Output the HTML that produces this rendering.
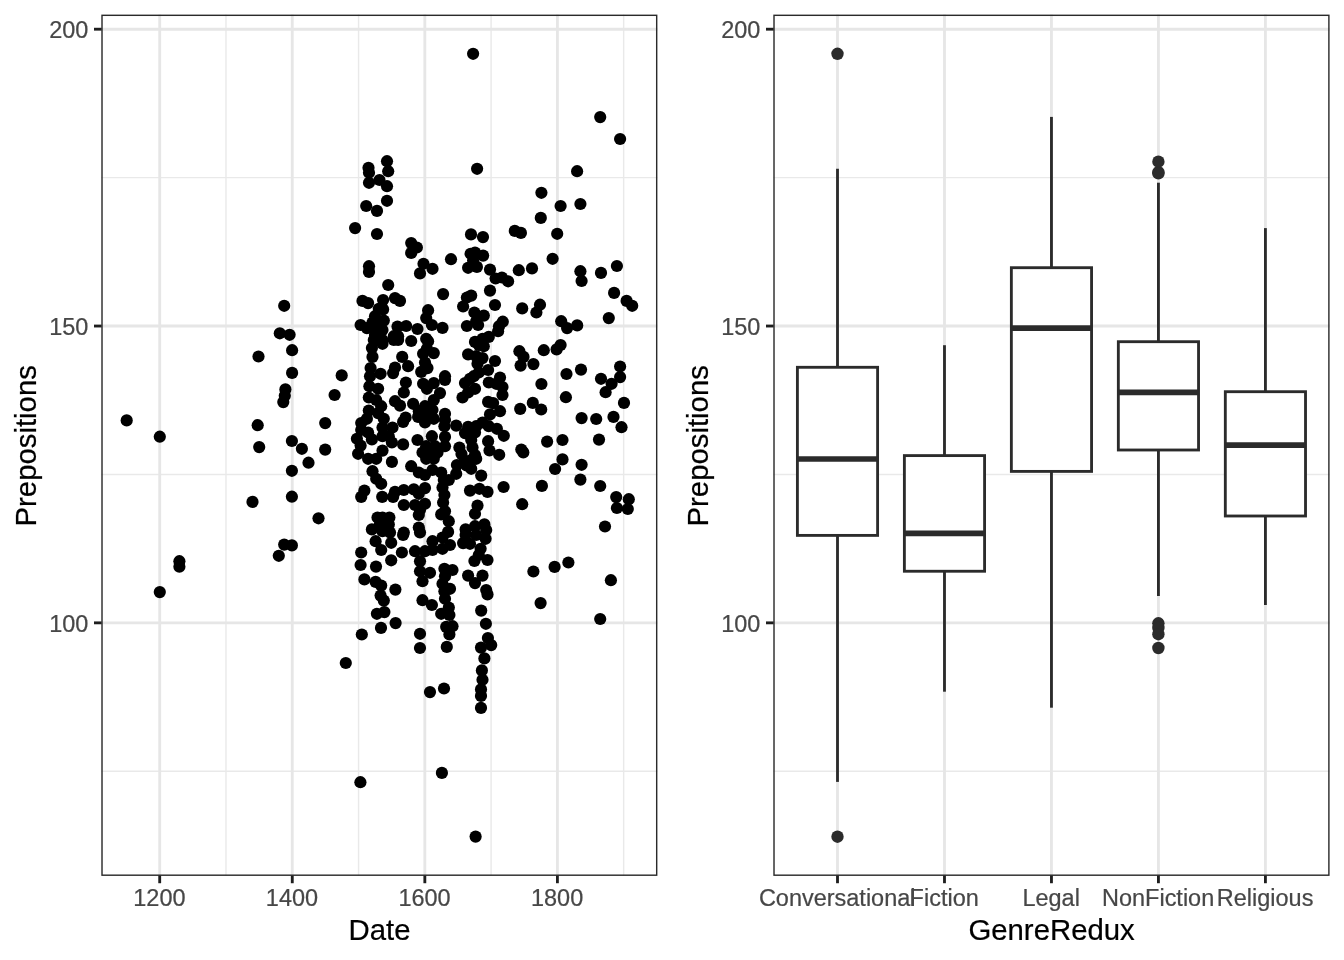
<!DOCTYPE html>
<html lang="en"><head><meta charset="utf-8"><title>Prepositions by Date and GenreRedux</title>
<style>html,body{margin:0;padding:0;background:#fff;}body{width:1344px;height:960px;overflow:hidden;}svg{display:block;will-change:transform;}text{font-family:"Liberation Sans", Arial, Helvetica, sans-serif;stroke-width:0.22px;}</style></head><body>
<svg width="1344" height="960" viewBox="0 0 1344 960">
<rect x="0" y="0" width="1344" height="960" fill="#ffffff"/>
<g>
<line x1="101.30" x2="657.40" y1="771.26" y2="771.26" stroke="#E9E9E9" stroke-width="1.42"/>
<line x1="101.30" x2="657.40" y1="474.44" y2="474.44" stroke="#E9E9E9" stroke-width="1.42"/>
<line x1="101.30" x2="657.40" y1="177.61" y2="177.61" stroke="#E9E9E9" stroke-width="1.42"/>
<line x1="225.98" x2="225.98" y1="14.60" y2="875.90" stroke="#E9E9E9" stroke-width="1.42"/>
<line x1="358.55" x2="358.55" y1="14.60" y2="875.90" stroke="#E9E9E9" stroke-width="1.42"/>
<line x1="491.10" x2="491.10" y1="14.60" y2="875.90" stroke="#E9E9E9" stroke-width="1.42"/>
<line x1="623.67" x2="623.67" y1="14.60" y2="875.90" stroke="#E9E9E9" stroke-width="1.42"/>
<line x1="101.30" x2="657.40" y1="622.85" y2="622.85" stroke="#E6E6E6" stroke-width="2.85"/>
<line x1="101.30" x2="657.40" y1="326.03" y2="326.03" stroke="#E6E6E6" stroke-width="2.85"/>
<line x1="101.30" x2="657.40" y1="29.20" y2="29.20" stroke="#E6E6E6" stroke-width="2.85"/>
<line x1="159.70" x2="159.70" y1="14.60" y2="875.90" stroke="#E6E6E6" stroke-width="2.85"/>
<line x1="292.27" x2="292.27" y1="14.60" y2="875.90" stroke="#E6E6E6" stroke-width="2.85"/>
<line x1="424.83" x2="424.83" y1="14.60" y2="875.90" stroke="#E6E6E6" stroke-width="2.85"/>
<line x1="557.40" x2="557.40" y1="14.60" y2="875.90" stroke="#E6E6E6" stroke-width="2.85"/>
</g>
<g fill="#000000">
<circle cx="126.7" cy="420.4" r="6.1"/>
<circle cx="159.8" cy="436.7" r="6.1"/>
<circle cx="284.2" cy="305.8" r="6.1"/>
<circle cx="279.8" cy="333.3" r="6.1"/>
<circle cx="289.6" cy="334.8" r="6.1"/>
<circle cx="292.1" cy="350.2" r="6.1"/>
<circle cx="258.5" cy="356.5" r="6.1"/>
<circle cx="292.1" cy="372.9" r="6.1"/>
<circle cx="341.7" cy="375.4" r="6.1"/>
<circle cx="285.4" cy="389.4" r="6.1"/>
<circle cx="284.8" cy="395.8" r="6.1"/>
<circle cx="283.3" cy="402.1" r="6.1"/>
<circle cx="334.6" cy="395.0" r="6.1"/>
<circle cx="257.7" cy="425.2" r="6.1"/>
<circle cx="325.2" cy="423.1" r="6.1"/>
<circle cx="259.2" cy="447.1" r="6.1"/>
<circle cx="291.9" cy="441.0" r="6.1"/>
<circle cx="301.9" cy="448.8" r="6.1"/>
<circle cx="325.2" cy="449.6" r="6.1"/>
<circle cx="308.5" cy="462.7" r="6.1"/>
<circle cx="291.9" cy="470.8" r="6.1"/>
<circle cx="291.9" cy="496.7" r="6.1"/>
<circle cx="252.5" cy="501.9" r="6.1"/>
<circle cx="318.5" cy="518.3" r="6.1"/>
<circle cx="284.2" cy="544.6" r="6.1"/>
<circle cx="291.9" cy="545.4" r="6.1"/>
<circle cx="278.8" cy="555.8" r="6.1"/>
<circle cx="179.4" cy="561.2" r="6.1"/>
<circle cx="179.4" cy="566.7" r="6.1"/>
<circle cx="159.8" cy="592.1" r="6.1"/>
<circle cx="345.8" cy="663.0" r="6.1"/>
<circle cx="387.0" cy="161.2" r="6.1"/>
<circle cx="368.5" cy="167.8" r="6.1"/>
<circle cx="369.0" cy="172.8" r="6.1"/>
<circle cx="388.2" cy="171.2" r="6.1"/>
<circle cx="379.5" cy="180.0" r="6.1"/>
<circle cx="369.0" cy="182.8" r="6.1"/>
<circle cx="387.0" cy="186.2" r="6.1"/>
<circle cx="387.0" cy="200.8" r="6.1"/>
<circle cx="366.2" cy="206.0" r="6.1"/>
<circle cx="377.0" cy="210.9" r="6.1"/>
<circle cx="355.1" cy="228.1" r="6.1"/>
<circle cx="377.0" cy="234.0" r="6.1"/>
<circle cx="477.1" cy="168.8" r="6.1"/>
<circle cx="471.0" cy="234.4" r="6.1"/>
<circle cx="483.0" cy="237.1" r="6.1"/>
<circle cx="411.2" cy="243.1" r="6.1"/>
<circle cx="416.9" cy="247.5" r="6.1"/>
<circle cx="411.2" cy="252.9" r="6.1"/>
<circle cx="451.0" cy="259.2" r="6.1"/>
<circle cx="470.6" cy="253.8" r="6.1"/>
<circle cx="475.0" cy="252.5" r="6.1"/>
<circle cx="483.1" cy="255.6" r="6.1"/>
<circle cx="473.1" cy="260.6" r="6.1"/>
<circle cx="369.0" cy="266.2" r="6.1"/>
<circle cx="369.0" cy="271.9" r="6.1"/>
<circle cx="423.5" cy="263.8" r="6.1"/>
<circle cx="432.5" cy="268.8" r="6.1"/>
<circle cx="420.0" cy="273.4" r="6.1"/>
<circle cx="468.1" cy="267.8" r="6.1"/>
<circle cx="476.9" cy="266.9" r="6.1"/>
<circle cx="490.0" cy="269.6" r="6.1"/>
<circle cx="495.6" cy="278.5" r="6.1"/>
<circle cx="501.9" cy="277.5" r="6.1"/>
<circle cx="508.1" cy="281.3" r="6.1"/>
<circle cx="388.2" cy="285.0" r="6.1"/>
<circle cx="443.1" cy="294.1" r="6.1"/>
<circle cx="490.0" cy="290.6" r="6.1"/>
<circle cx="471.2" cy="295.6" r="6.1"/>
<circle cx="466.9" cy="297.5" r="6.1"/>
<circle cx="495.0" cy="305.0" r="6.1"/>
<circle cx="463.1" cy="306.5" r="6.1"/>
<circle cx="362.5" cy="300.9" r="6.1"/>
<circle cx="368.1" cy="303.1" r="6.1"/>
<circle cx="383.1" cy="300.0" r="6.1"/>
<circle cx="395.0" cy="298.1" r="6.1"/>
<circle cx="400.0" cy="300.9" r="6.1"/>
<circle cx="378.8" cy="308.8" r="6.1"/>
<circle cx="383.1" cy="309.4" r="6.1"/>
<circle cx="375.0" cy="316.2" r="6.1"/>
<circle cx="383.8" cy="320.6" r="6.1"/>
<circle cx="428.1" cy="310.2" r="6.1"/>
<circle cx="426.2" cy="318.1" r="6.1"/>
<circle cx="431.9" cy="325.0" r="6.1"/>
<circle cx="442.5" cy="327.9" r="6.1"/>
<circle cx="474.4" cy="312.5" r="6.1"/>
<circle cx="483.8" cy="315.6" r="6.1"/>
<circle cx="476.2" cy="321.2" r="6.1"/>
<circle cx="466.9" cy="326.0" r="6.1"/>
<circle cx="478.1" cy="325.0" r="6.1"/>
<circle cx="502.8" cy="321.7" r="6.1"/>
<circle cx="499.0" cy="326.2" r="6.1"/>
<circle cx="498.1" cy="331.2" r="6.1"/>
<circle cx="360.6" cy="325.0" r="6.1"/>
<circle cx="366.9" cy="328.1" r="6.1"/>
<circle cx="372.5" cy="322.5" r="6.1"/>
<circle cx="377.5" cy="327.5" r="6.1"/>
<circle cx="382.5" cy="330.0" r="6.1"/>
<circle cx="397.5" cy="326.6" r="6.1"/>
<circle cx="406.2" cy="326.0" r="6.1"/>
<circle cx="417.5" cy="329.0" r="6.1"/>
<circle cx="375.0" cy="335.0" r="6.1"/>
<circle cx="373.8" cy="340.0" r="6.1"/>
<circle cx="382.5" cy="340.0" r="6.1"/>
<circle cx="382.5" cy="343.8" r="6.1"/>
<circle cx="393.8" cy="336.2" r="6.1"/>
<circle cx="398.1" cy="336.2" r="6.1"/>
<circle cx="393.8" cy="340.0" r="6.1"/>
<circle cx="398.1" cy="340.0" r="6.1"/>
<circle cx="411.2" cy="341.0" r="6.1"/>
<circle cx="426.2" cy="338.8" r="6.1"/>
<circle cx="428.1" cy="341.2" r="6.1"/>
<circle cx="371.9" cy="348.1" r="6.1"/>
<circle cx="372.5" cy="356.9" r="6.1"/>
<circle cx="402.2" cy="356.9" r="6.1"/>
<circle cx="426.9" cy="348.8" r="6.1"/>
<circle cx="423.1" cy="353.8" r="6.1"/>
<circle cx="433.8" cy="353.1" r="6.1"/>
<circle cx="488.8" cy="336.9" r="6.1"/>
<circle cx="482.5" cy="338.8" r="6.1"/>
<circle cx="475.0" cy="341.9" r="6.1"/>
<circle cx="478.8" cy="345.0" r="6.1"/>
<circle cx="483.8" cy="346.2" r="6.1"/>
<circle cx="468.1" cy="354.4" r="6.1"/>
<circle cx="476.2" cy="356.2" r="6.1"/>
<circle cx="482.5" cy="358.1" r="6.1"/>
<circle cx="495.0" cy="361.0" r="6.1"/>
<circle cx="370.6" cy="368.1" r="6.1"/>
<circle cx="370.0" cy="376.2" r="6.1"/>
<circle cx="380.6" cy="373.8" r="6.1"/>
<circle cx="369.4" cy="386.2" r="6.1"/>
<circle cx="378.1" cy="388.8" r="6.1"/>
<circle cx="368.8" cy="397.5" r="6.1"/>
<circle cx="376.2" cy="400.0" r="6.1"/>
<circle cx="381.2" cy="406.2" r="6.1"/>
<circle cx="368.8" cy="410.6" r="6.1"/>
<circle cx="378.1" cy="413.1" r="6.1"/>
<circle cx="383.8" cy="418.8" r="6.1"/>
<circle cx="366.9" cy="418.8" r="6.1"/>
<circle cx="361.2" cy="423.1" r="6.1"/>
<circle cx="382.5" cy="427.5" r="6.1"/>
<circle cx="392.5" cy="427.5" r="6.1"/>
<circle cx="361.2" cy="430.0" r="6.1"/>
<circle cx="368.1" cy="432.5" r="6.1"/>
<circle cx="356.9" cy="438.8" r="6.1"/>
<circle cx="371.9" cy="439.4" r="6.1"/>
<circle cx="382.5" cy="436.2" r="6.1"/>
<circle cx="388.8" cy="436.2" r="6.1"/>
<circle cx="391.9" cy="442.5" r="6.1"/>
<circle cx="360.6" cy="445.6" r="6.1"/>
<circle cx="403.1" cy="444.4" r="6.1"/>
<circle cx="358.1" cy="453.8" r="6.1"/>
<circle cx="382.5" cy="450.6" r="6.1"/>
<circle cx="368.1" cy="458.8" r="6.1"/>
<circle cx="376.2" cy="458.8" r="6.1"/>
<circle cx="391.9" cy="461.9" r="6.1"/>
<circle cx="408.1" cy="366.2" r="6.1"/>
<circle cx="395.0" cy="367.5" r="6.1"/>
<circle cx="393.1" cy="373.1" r="6.1"/>
<circle cx="405.9" cy="382.5" r="6.1"/>
<circle cx="403.8" cy="392.5" r="6.1"/>
<circle cx="395.0" cy="401.2" r="6.1"/>
<circle cx="400.0" cy="405.6" r="6.1"/>
<circle cx="405.6" cy="417.5" r="6.1"/>
<circle cx="403.1" cy="421.9" r="6.1"/>
<circle cx="425.0" cy="362.5" r="6.1"/>
<circle cx="427.5" cy="368.1" r="6.1"/>
<circle cx="421.2" cy="371.9" r="6.1"/>
<circle cx="445.0" cy="376.2" r="6.1"/>
<circle cx="445.0" cy="380.0" r="6.1"/>
<circle cx="423.1" cy="383.8" r="6.1"/>
<circle cx="433.8" cy="383.1" r="6.1"/>
<circle cx="426.9" cy="388.8" r="6.1"/>
<circle cx="440.0" cy="393.1" r="6.1"/>
<circle cx="433.8" cy="400.0" r="6.1"/>
<circle cx="413.1" cy="403.8" r="6.1"/>
<circle cx="425.0" cy="406.2" r="6.1"/>
<circle cx="418.8" cy="411.2" r="6.1"/>
<circle cx="432.5" cy="410.0" r="6.1"/>
<circle cx="418.1" cy="416.9" r="6.1"/>
<circle cx="426.2" cy="415.0" r="6.1"/>
<circle cx="433.8" cy="418.8" r="6.1"/>
<circle cx="425.0" cy="422.5" r="6.1"/>
<circle cx="445.0" cy="413.8" r="6.1"/>
<circle cx="445.0" cy="420.0" r="6.1"/>
<circle cx="444.4" cy="426.2" r="6.1"/>
<circle cx="456.2" cy="425.6" r="6.1"/>
<circle cx="431.9" cy="436.2" r="6.1"/>
<circle cx="417.5" cy="440.0" r="6.1"/>
<circle cx="445.0" cy="436.9" r="6.1"/>
<circle cx="426.2" cy="446.2" r="6.1"/>
<circle cx="435.0" cy="446.2" r="6.1"/>
<circle cx="445.0" cy="446.2" r="6.1"/>
<circle cx="422.5" cy="452.5" r="6.1"/>
<circle cx="431.2" cy="453.8" r="6.1"/>
<circle cx="437.5" cy="452.5" r="6.1"/>
<circle cx="426.2" cy="458.8" r="6.1"/>
<circle cx="433.8" cy="458.8" r="6.1"/>
<circle cx="477.5" cy="363.8" r="6.1"/>
<circle cx="488.1" cy="370.0" r="6.1"/>
<circle cx="478.8" cy="372.5" r="6.1"/>
<circle cx="473.8" cy="376.2" r="6.1"/>
<circle cx="470.0" cy="378.8" r="6.1"/>
<circle cx="465.0" cy="383.1" r="6.1"/>
<circle cx="500.0" cy="377.5" r="6.1"/>
<circle cx="488.8" cy="382.5" r="6.1"/>
<circle cx="496.2" cy="383.8" r="6.1"/>
<circle cx="502.5" cy="387.0" r="6.1"/>
<circle cx="475.0" cy="388.8" r="6.1"/>
<circle cx="468.1" cy="392.5" r="6.1"/>
<circle cx="462.5" cy="397.5" r="6.1"/>
<circle cx="502.5" cy="395.0" r="6.1"/>
<circle cx="488.1" cy="401.9" r="6.1"/>
<circle cx="493.1" cy="403.1" r="6.1"/>
<circle cx="500.0" cy="411.2" r="6.1"/>
<circle cx="490.0" cy="414.4" r="6.1"/>
<circle cx="482.5" cy="422.5" r="6.1"/>
<circle cx="476.2" cy="426.2" r="6.1"/>
<circle cx="468.1" cy="426.9" r="6.1"/>
<circle cx="488.8" cy="426.2" r="6.1"/>
<circle cx="496.9" cy="428.8" r="6.1"/>
<circle cx="465.0" cy="433.1" r="6.1"/>
<circle cx="475.0" cy="432.5" r="6.1"/>
<circle cx="503.8" cy="435.8" r="6.1"/>
<circle cx="471.2" cy="440.0" r="6.1"/>
<circle cx="488.1" cy="441.2" r="6.1"/>
<circle cx="459.4" cy="447.5" r="6.1"/>
<circle cx="472.5" cy="447.5" r="6.1"/>
<circle cx="489.5" cy="450.5" r="6.1"/>
<circle cx="461.5" cy="454.0" r="6.1"/>
<circle cx="475.0" cy="455.0" r="6.1"/>
<circle cx="499.2" cy="454.8" r="6.1"/>
<circle cx="466.5" cy="465.5" r="6.1"/>
<circle cx="464.5" cy="460.5" r="6.1"/>
<circle cx="471.2" cy="460.0" r="6.1"/>
<circle cx="372.5" cy="471.2" r="6.1"/>
<circle cx="376.2" cy="478.8" r="6.1"/>
<circle cx="381.2" cy="483.8" r="6.1"/>
<circle cx="364.4" cy="490.6" r="6.1"/>
<circle cx="361.2" cy="496.9" r="6.1"/>
<circle cx="382.2" cy="496.9" r="6.1"/>
<circle cx="395.0" cy="491.9" r="6.1"/>
<circle cx="393.1" cy="496.9" r="6.1"/>
<circle cx="403.8" cy="490.0" r="6.1"/>
<circle cx="413.8" cy="489.4" r="6.1"/>
<circle cx="425.0" cy="488.1" r="6.1"/>
<circle cx="418.8" cy="493.8" r="6.1"/>
<circle cx="403.8" cy="505.0" r="6.1"/>
<circle cx="415.0" cy="505.0" r="6.1"/>
<circle cx="425.0" cy="503.8" r="6.1"/>
<circle cx="420.0" cy="510.0" r="6.1"/>
<circle cx="418.8" cy="515.0" r="6.1"/>
<circle cx="411.2" cy="466.2" r="6.1"/>
<circle cx="418.8" cy="472.5" r="6.1"/>
<circle cx="425.0" cy="475.0" r="6.1"/>
<circle cx="432.5" cy="470.0" r="6.1"/>
<circle cx="441.2" cy="472.5" r="6.1"/>
<circle cx="443.8" cy="480.0" r="6.1"/>
<circle cx="442.5" cy="487.5" r="6.1"/>
<circle cx="444.4" cy="495.0" r="6.1"/>
<circle cx="443.1" cy="502.5" r="6.1"/>
<circle cx="445.0" cy="511.2" r="6.1"/>
<circle cx="441.2" cy="514.4" r="6.1"/>
<circle cx="448.8" cy="521.2" r="6.1"/>
<circle cx="448.1" cy="531.9" r="6.1"/>
<circle cx="442.5" cy="537.5" r="6.1"/>
<circle cx="432.5" cy="541.2" r="6.1"/>
<circle cx="450.0" cy="545.0" r="6.1"/>
<circle cx="442.5" cy="548.8" r="6.1"/>
<circle cx="432.5" cy="550.0" r="6.1"/>
<circle cx="425.0" cy="551.2" r="6.1"/>
<circle cx="415.0" cy="551.2" r="6.1"/>
<circle cx="418.8" cy="527.5" r="6.1"/>
<circle cx="420.0" cy="532.5" r="6.1"/>
<circle cx="403.8" cy="532.5" r="6.1"/>
<circle cx="403.1" cy="535.0" r="6.1"/>
<circle cx="401.9" cy="552.5" r="6.1"/>
<circle cx="391.2" cy="560.3" r="6.1"/>
<circle cx="361.2" cy="552.5" r="6.1"/>
<circle cx="381.2" cy="550.0" r="6.1"/>
<circle cx="375.6" cy="541.2" r="6.1"/>
<circle cx="391.2" cy="542.8" r="6.1"/>
<circle cx="371.9" cy="529.4" r="6.1"/>
<circle cx="382.5" cy="531.2" r="6.1"/>
<circle cx="390.0" cy="532.5" r="6.1"/>
<circle cx="377.5" cy="517.5" r="6.1"/>
<circle cx="382.5" cy="517.5" r="6.1"/>
<circle cx="389.4" cy="517.5" r="6.1"/>
<circle cx="380.0" cy="523.8" r="6.1"/>
<circle cx="388.8" cy="524.4" r="6.1"/>
<circle cx="476.2" cy="458.8" r="6.1"/>
<circle cx="456.9" cy="465.0" r="6.1"/>
<circle cx="471.2" cy="468.8" r="6.1"/>
<circle cx="456.2" cy="473.8" r="6.1"/>
<circle cx="481.2" cy="475.6" r="6.1"/>
<circle cx="448.8" cy="480.0" r="6.1"/>
<circle cx="470.0" cy="490.6" r="6.1"/>
<circle cx="479.4" cy="488.8" r="6.1"/>
<circle cx="487.5" cy="491.9" r="6.1"/>
<circle cx="503.6" cy="487.0" r="6.1"/>
<circle cx="477.5" cy="505.6" r="6.1"/>
<circle cx="475.0" cy="513.8" r="6.1"/>
<circle cx="484.4" cy="524.4" r="6.1"/>
<circle cx="475.0" cy="526.2" r="6.1"/>
<circle cx="465.6" cy="529.4" r="6.1"/>
<circle cx="486.2" cy="530.0" r="6.1"/>
<circle cx="465.6" cy="535.0" r="6.1"/>
<circle cx="476.2" cy="535.0" r="6.1"/>
<circle cx="485.6" cy="538.8" r="6.1"/>
<circle cx="463.1" cy="543.1" r="6.1"/>
<circle cx="470.0" cy="543.8" r="6.1"/>
<circle cx="480.6" cy="548.8" r="6.1"/>
<circle cx="478.8" cy="555.0" r="6.1"/>
<circle cx="487.5" cy="560.0" r="6.1"/>
<circle cx="474.4" cy="561.0" r="6.1"/>
<circle cx="360.6" cy="565.0" r="6.1"/>
<circle cx="376.0" cy="566.6" r="6.1"/>
<circle cx="420.0" cy="561.2" r="6.1"/>
<circle cx="420.0" cy="571.2" r="6.1"/>
<circle cx="430.0" cy="572.8" r="6.1"/>
<circle cx="422.5" cy="581.2" r="6.1"/>
<circle cx="444.4" cy="568.8" r="6.1"/>
<circle cx="452.5" cy="570.0" r="6.1"/>
<circle cx="445.0" cy="576.2" r="6.1"/>
<circle cx="442.5" cy="583.8" r="6.1"/>
<circle cx="450.0" cy="588.8" r="6.1"/>
<circle cx="444.4" cy="591.2" r="6.1"/>
<circle cx="445.0" cy="598.8" r="6.1"/>
<circle cx="448.8" cy="607.5" r="6.1"/>
<circle cx="441.2" cy="613.8" r="6.1"/>
<circle cx="449.4" cy="615.0" r="6.1"/>
<circle cx="468.1" cy="575.6" r="6.1"/>
<circle cx="482.5" cy="575.6" r="6.1"/>
<circle cx="475.0" cy="583.1" r="6.1"/>
<circle cx="486.2" cy="590.0" r="6.1"/>
<circle cx="487.5" cy="594.4" r="6.1"/>
<circle cx="364.4" cy="579.4" r="6.1"/>
<circle cx="375.6" cy="581.9" r="6.1"/>
<circle cx="381.2" cy="585.6" r="6.1"/>
<circle cx="395.4" cy="589.6" r="6.1"/>
<circle cx="380.6" cy="595.6" r="6.1"/>
<circle cx="383.8" cy="600.6" r="6.1"/>
<circle cx="422.5" cy="600.2" r="6.1"/>
<circle cx="431.9" cy="605.0" r="6.1"/>
<circle cx="376.9" cy="613.8" r="6.1"/>
<circle cx="384.4" cy="612.1" r="6.1"/>
<circle cx="481.2" cy="610.6" r="6.1"/>
<circle cx="395.6" cy="623.1" r="6.1"/>
<circle cx="381.0" cy="627.9" r="6.1"/>
<circle cx="361.8" cy="634.5" r="6.1"/>
<circle cx="420.0" cy="633.8" r="6.1"/>
<circle cx="420.0" cy="648.0" r="6.1"/>
<circle cx="446.2" cy="626.9" r="6.1"/>
<circle cx="452.5" cy="626.2" r="6.1"/>
<circle cx="449.4" cy="634.4" r="6.1"/>
<circle cx="446.8" cy="646.9" r="6.1"/>
<circle cx="485.9" cy="623.8" r="6.1"/>
<circle cx="487.9" cy="638.1" r="6.1"/>
<circle cx="491.2" cy="645.1" r="6.1"/>
<circle cx="481.0" cy="647.6" r="6.1"/>
<circle cx="484.4" cy="658.4" r="6.1"/>
<circle cx="481.9" cy="670.4" r="6.1"/>
<circle cx="482.5" cy="679.8" r="6.1"/>
<circle cx="481.0" cy="689.4" r="6.1"/>
<circle cx="481.0" cy="695.9" r="6.1"/>
<circle cx="481.0" cy="707.9" r="6.1"/>
<circle cx="430.0" cy="692.1" r="6.1"/>
<circle cx="444.0" cy="688.5" r="6.1"/>
<circle cx="360.4" cy="782.2" r="6.1"/>
<circle cx="441.9" cy="772.9" r="6.1"/>
<circle cx="475.6" cy="836.6" r="6.1"/>
<circle cx="473.1" cy="53.8" r="6.1"/>
<circle cx="600.2" cy="117.1" r="6.1"/>
<circle cx="620.1" cy="139.0" r="6.1"/>
<circle cx="577.1" cy="171.2" r="6.1"/>
<circle cx="541.4" cy="192.8" r="6.1"/>
<circle cx="560.6" cy="206.0" r="6.1"/>
<circle cx="580.4" cy="204.0" r="6.1"/>
<circle cx="540.8" cy="217.9" r="6.1"/>
<circle cx="514.8" cy="230.9" r="6.1"/>
<circle cx="520.9" cy="232.9" r="6.1"/>
<circle cx="557.2" cy="233.8" r="6.1"/>
<circle cx="552.6" cy="258.8" r="6.1"/>
<circle cx="532.0" cy="268.4" r="6.1"/>
<circle cx="518.8" cy="270.2" r="6.1"/>
<circle cx="580.4" cy="271.2" r="6.1"/>
<circle cx="581.6" cy="281.0" r="6.1"/>
<circle cx="601.0" cy="272.9" r="6.1"/>
<circle cx="616.9" cy="266.0" r="6.1"/>
<circle cx="614.1" cy="292.9" r="6.1"/>
<circle cx="626.6" cy="300.9" r="6.1"/>
<circle cx="632.2" cy="305.8" r="6.1"/>
<circle cx="540.0" cy="304.7" r="6.1"/>
<circle cx="522.2" cy="308.4" r="6.1"/>
<circle cx="536.4" cy="312.5" r="6.1"/>
<circle cx="608.8" cy="318.1" r="6.1"/>
<circle cx="561.2" cy="321.2" r="6.1"/>
<circle cx="577.2" cy="325.4" r="6.1"/>
<circle cx="567.1" cy="328.1" r="6.1"/>
<circle cx="560.6" cy="345.0" r="6.1"/>
<circle cx="556.6" cy="349.4" r="6.1"/>
<circle cx="543.8" cy="350.2" r="6.1"/>
<circle cx="519.4" cy="351.2" r="6.1"/>
<circle cx="523.5" cy="356.9" r="6.1"/>
<circle cx="520.6" cy="365.6" r="6.1"/>
<circle cx="533.4" cy="364.1" r="6.1"/>
<circle cx="581.0" cy="369.6" r="6.1"/>
<circle cx="566.5" cy="374.0" r="6.1"/>
<circle cx="620.1" cy="366.5" r="6.1"/>
<circle cx="620.1" cy="377.1" r="6.1"/>
<circle cx="601.0" cy="378.8" r="6.1"/>
<circle cx="611.6" cy="383.8" r="6.1"/>
<circle cx="605.6" cy="392.2" r="6.1"/>
<circle cx="541.4" cy="384.0" r="6.1"/>
<circle cx="565.9" cy="397.2" r="6.1"/>
<circle cx="624.0" cy="402.9" r="6.1"/>
<circle cx="532.8" cy="402.9" r="6.1"/>
<circle cx="520.2" cy="408.9" r="6.1"/>
<circle cx="541.2" cy="409.5" r="6.1"/>
<circle cx="581.6" cy="418.1" r="6.1"/>
<circle cx="596.2" cy="419.0" r="6.1"/>
<circle cx="613.5" cy="416.9" r="6.1"/>
<circle cx="621.5" cy="427.2" r="6.1"/>
<circle cx="599.0" cy="439.6" r="6.1"/>
<circle cx="562.5" cy="440.0" r="6.1"/>
<circle cx="547.1" cy="441.6" r="6.1"/>
<circle cx="521.3" cy="449.5" r="6.1"/>
<circle cx="523.3" cy="452.4" r="6.1"/>
<circle cx="562.5" cy="459.4" r="6.1"/>
<circle cx="555.1" cy="469.0" r="6.1"/>
<circle cx="581.6" cy="464.8" r="6.1"/>
<circle cx="580.4" cy="479.6" r="6.1"/>
<circle cx="600.2" cy="486.0" r="6.1"/>
<circle cx="541.9" cy="485.9" r="6.1"/>
<circle cx="522.2" cy="504.2" r="6.1"/>
<circle cx="616.2" cy="497.1" r="6.1"/>
<circle cx="628.8" cy="499.2" r="6.1"/>
<circle cx="616.9" cy="508.0" r="6.1"/>
<circle cx="627.8" cy="509.0" r="6.1"/>
<circle cx="605.0" cy="526.5" r="6.1"/>
<circle cx="568.4" cy="562.5" r="6.1"/>
<circle cx="554.6" cy="566.9" r="6.1"/>
<circle cx="533.4" cy="571.5" r="6.1"/>
<circle cx="610.9" cy="580.2" r="6.1"/>
<circle cx="540.6" cy="603.1" r="6.1"/>
<circle cx="600.2" cy="619.0" r="6.1"/>
</g>
<rect x="102.01" y="15.31" width="554.68" height="859.88" fill="none" stroke="#2A2A2A" stroke-width="1.42"/>
<line x1="93.97" x2="101.60" y1="622.85" y2="622.85" stroke="#1E1E1E" stroke-width="2.85"/>
<text x="88.30" y="631.65" text-anchor="end" font-size="23.47" fill="#474747" stroke="#474747">100</text>
<line x1="93.97" x2="101.60" y1="326.03" y2="326.03" stroke="#1E1E1E" stroke-width="2.85"/>
<text x="88.30" y="334.83" text-anchor="end" font-size="23.47" fill="#474747" stroke="#474747">150</text>
<line x1="93.97" x2="101.60" y1="29.20" y2="29.20" stroke="#1E1E1E" stroke-width="2.85"/>
<text x="88.30" y="38.00" text-anchor="end" font-size="23.47" fill="#474747" stroke="#474747">200</text>
<line x1="159.70" x2="159.70" y1="875.60" y2="883.23" stroke="#1E1E1E" stroke-width="2.85"/>
<text x="159.40" y="906" text-anchor="middle" font-size="23.47" fill="#474747" stroke="#474747">1200</text>
<line x1="292.27" x2="292.27" y1="875.60" y2="883.23" stroke="#1E1E1E" stroke-width="2.85"/>
<text x="291.97" y="906" text-anchor="middle" font-size="23.47" fill="#474747" stroke="#474747">1400</text>
<line x1="424.83" x2="424.83" y1="875.60" y2="883.23" stroke="#1E1E1E" stroke-width="2.85"/>
<text x="424.53" y="906" text-anchor="middle" font-size="23.47" fill="#474747" stroke="#474747">1600</text>
<line x1="557.40" x2="557.40" y1="875.60" y2="883.23" stroke="#1E1E1E" stroke-width="2.85"/>
<text x="557.10" y="906" text-anchor="middle" font-size="23.47" fill="#474747" stroke="#474747">1800</text>
<text x="379.5" y="939.8" text-anchor="middle" font-size="29.33" fill="#000" stroke="#000">Date</text>
<text transform="translate(35.8,445.8) rotate(-90)" text-anchor="middle" font-size="29.33" fill="#000" stroke="#000">Prepositions</text>
<g>
<line x1="773.30" x2="1329.60" y1="771.26" y2="771.26" stroke="#E9E9E9" stroke-width="1.42"/>
<line x1="773.30" x2="1329.60" y1="474.44" y2="474.44" stroke="#E9E9E9" stroke-width="1.42"/>
<line x1="773.30" x2="1329.60" y1="177.61" y2="177.61" stroke="#E9E9E9" stroke-width="1.42"/>
<line x1="773.30" x2="1329.60" y1="622.85" y2="622.85" stroke="#E6E6E6" stroke-width="2.85"/>
<line x1="773.30" x2="1329.60" y1="326.03" y2="326.03" stroke="#E6E6E6" stroke-width="2.85"/>
<line x1="773.30" x2="1329.60" y1="29.20" y2="29.20" stroke="#E6E6E6" stroke-width="2.85"/>
<line x1="837.50" x2="837.50" y1="14.60" y2="875.90" stroke="#E6E6E6" stroke-width="2.85"/>
<line x1="944.48" x2="944.48" y1="14.60" y2="875.90" stroke="#E6E6E6" stroke-width="2.85"/>
<line x1="1051.46" x2="1051.46" y1="14.60" y2="875.90" stroke="#E6E6E6" stroke-width="2.85"/>
<line x1="1158.44" x2="1158.44" y1="14.60" y2="875.90" stroke="#E6E6E6" stroke-width="2.85"/>
<line x1="1265.42" x2="1265.42" y1="14.60" y2="875.90" stroke="#E6E6E6" stroke-width="2.85"/>
</g>
<g stroke="#2B2B2B" fill="none">
<circle cx="837.5" cy="53.8" r="6.2" fill="#2B2B2B" stroke="none"/>
<circle cx="837.5" cy="836.7" r="6.2" fill="#2B2B2B" stroke="none"/>
<line x1="837.50" x2="837.50" y1="168.75" y2="367.30" stroke-width="2.85"/>
<line x1="837.50" x2="837.50" y1="535.40" y2="781.90" stroke-width="2.85"/>
<rect x="797.40" y="367.30" width="80.20" height="168.10" fill="#ffffff" stroke-width="2.85"/>
<line x1="797.40" x2="877.60" y1="459.00" y2="459.00" stroke-width="5.7"/>
<line x1="944.48" x2="944.48" y1="345.20" y2="455.60" stroke-width="2.85"/>
<line x1="944.48" x2="944.48" y1="571.25" y2="691.70" stroke-width="2.85"/>
<rect x="904.38" y="455.60" width="80.20" height="115.65" fill="#ffffff" stroke-width="2.85"/>
<line x1="904.38" x2="984.58" y1="533.30" y2="533.30" stroke-width="5.7"/>
<line x1="1051.46" x2="1051.46" y1="116.90" y2="267.70" stroke-width="2.85"/>
<line x1="1051.46" x2="1051.46" y1="471.40" y2="707.70" stroke-width="2.85"/>
<rect x="1011.36" y="267.70" width="80.20" height="203.70" fill="#ffffff" stroke-width="2.85"/>
<line x1="1011.36" x2="1091.56" y1="328.10" y2="328.10" stroke-width="5.7"/>
<circle cx="1158.4" cy="161.7" r="6.2" fill="#2B2B2B" stroke="none"/>
<circle cx="1158.4" cy="172.2" r="6.2" fill="#2B2B2B" stroke="none"/>
<circle cx="1158.4" cy="173.4" r="6.2" fill="#2B2B2B" stroke="none"/>
<circle cx="1158.4" cy="623.3" r="6.2" fill="#2B2B2B" stroke="none"/>
<circle cx="1158.4" cy="628.0" r="6.2" fill="#2B2B2B" stroke="none"/>
<circle cx="1158.4" cy="634.2" r="6.2" fill="#2B2B2B" stroke="none"/>
<circle cx="1158.4" cy="648.0" r="6.2" fill="#2B2B2B" stroke="none"/>
<line x1="1158.44" x2="1158.44" y1="182.70" y2="341.70" stroke-width="2.85"/>
<line x1="1158.44" x2="1158.44" y1="450.00" y2="596.00" stroke-width="2.85"/>
<rect x="1118.34" y="341.70" width="80.20" height="108.30" fill="#ffffff" stroke-width="2.85"/>
<line x1="1118.34" x2="1198.54" y1="392.30" y2="392.30" stroke-width="5.7"/>
<line x1="1265.42" x2="1265.42" y1="228.10" y2="391.70" stroke-width="2.85"/>
<line x1="1265.42" x2="1265.42" y1="516.00" y2="605.00" stroke-width="2.85"/>
<rect x="1225.32" y="391.70" width="80.20" height="124.30" fill="#ffffff" stroke-width="2.85"/>
<line x1="1225.32" x2="1305.52" y1="445.20" y2="445.20" stroke-width="5.7"/>
</g>
<rect x="774.01" y="15.31" width="554.88" height="859.88" fill="none" stroke="#2A2A2A" stroke-width="1.42"/>
<line x1="765.97" x2="773.60" y1="622.85" y2="622.85" stroke="#1E1E1E" stroke-width="2.85"/>
<text x="760.30" y="631.65" text-anchor="end" font-size="23.47" fill="#474747" stroke="#474747">100</text>
<line x1="765.97" x2="773.60" y1="326.03" y2="326.03" stroke="#1E1E1E" stroke-width="2.85"/>
<text x="760.30" y="334.83" text-anchor="end" font-size="23.47" fill="#474747" stroke="#474747">150</text>
<line x1="765.97" x2="773.60" y1="29.20" y2="29.20" stroke="#1E1E1E" stroke-width="2.85"/>
<text x="760.30" y="38.00" text-anchor="end" font-size="23.47" fill="#474747" stroke="#474747">200</text>
<line x1="837.50" x2="837.50" y1="875.60" y2="883.23" stroke="#1E1E1E" stroke-width="2.85"/>
<text x="837.20" y="906" text-anchor="middle" font-size="23.47" fill="#474747" stroke="#474747">Conversational</text>
<line x1="944.48" x2="944.48" y1="875.60" y2="883.23" stroke="#1E1E1E" stroke-width="2.85"/>
<text x="944.18" y="906" text-anchor="middle" font-size="23.47" fill="#474747" stroke="#474747">Fiction</text>
<line x1="1051.46" x2="1051.46" y1="875.60" y2="883.23" stroke="#1E1E1E" stroke-width="2.85"/>
<text x="1051.16" y="906" text-anchor="middle" font-size="23.47" fill="#474747" stroke="#474747">Legal</text>
<line x1="1158.44" x2="1158.44" y1="875.60" y2="883.23" stroke="#1E1E1E" stroke-width="2.85"/>
<text x="1158.14" y="906" text-anchor="middle" font-size="23.47" fill="#474747" stroke="#474747">NonFiction</text>
<line x1="1265.42" x2="1265.42" y1="875.60" y2="883.23" stroke="#1E1E1E" stroke-width="2.85"/>
<text x="1265.12" y="906" text-anchor="middle" font-size="23.47" fill="#474747" stroke="#474747">Religious</text>
<text x="1051.6" y="939.8" text-anchor="middle" font-size="29.33" fill="#000" stroke="#000">GenreRedux</text>
<text transform="translate(707.9,445.8) rotate(-90)" text-anchor="middle" font-size="29.33" fill="#000" stroke="#000">Prepositions</text>
</svg></body></html>
